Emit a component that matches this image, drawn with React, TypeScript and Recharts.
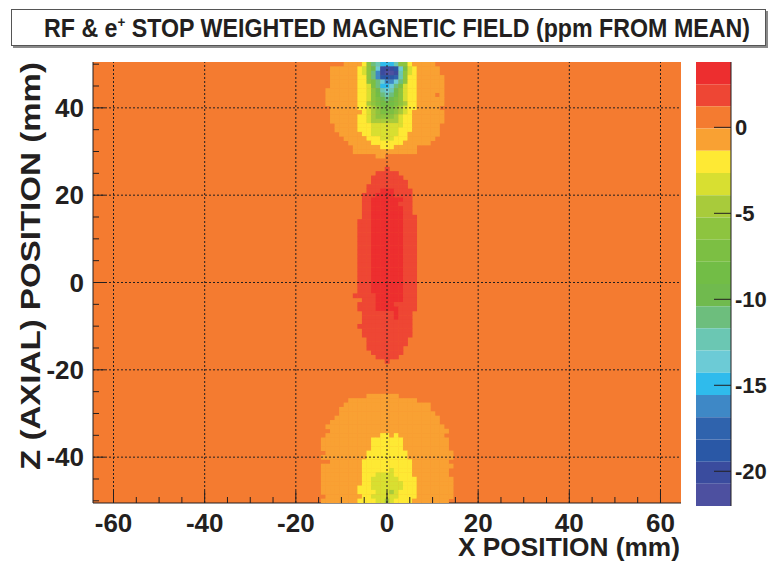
import { ScatterChart, Scatter, XAxis, YAxis, ReferenceArea, ReferenceLine, ComposedChart } from "recharts";

const FONT = "'Liberation Sans', Arial, Helvetica, sans-serif";
const INK = "#231f20";

// 1 mm bins. Only the window x = -16..16 is listed, one string per z row (50 down to -50).
// Everything outside the window (and every "." cell) is in the background band.
const WINDOW_X0 = -16;
const WINDOW_Z0 = 50;
const FIELD_ROWS = [
  ".......ooooYgstCCCtggYooooo......", // 50
  "....ooooooYygHciiidcGyYooooo.....",
  "....ooooooYygsbippitgyYooooo.....",
  "....ooooooYYgsbdddBtgYYoooooo....",
  "....ooooooYYgGscbbcsgYYoooooo....",
  "....ooooooYYyGsCCcsGyYYoooooo....", // 45
  "...oooooooYYygHtctHgyYYoooooo....",
  "...oooooooYYyghstshgyYYoooo.o....",
  "...oooooooYYygGHsHGgyYYoooooo....",
  "...oooooooYYlgGhhhGglYYoooooo....",
  "....ooooooYYylgGGGglyYYooooo.....", // 40
  "....oooooooYylgGGGglyYooooooo....",
  "....ooooooYYylgggglyYYooooooo....",
  "....ooooooYYyllllllyYYooooooo....",
  ".....oooooYYYyyyyyyyYYoooooo.....",
  ".....oooooYYYyyyyyyYYYoooooo.....", // 35
  "......oooooYYyyyyyyYYooooooo.....",
  ".......oooooYYYyyyYYYoooooo......",
  "........oooooYYYYYYYoooooo.......",
  ".........ooooooYYYooooo..........",
  ".........oooooooooooooo..........", // 30
  "..............oo.................",
  ".................................",
  ".................................",
  "................r................", // 26
  "..............rrrrr..............",
  ".............rrrrrrr.............",
  ".............rrrrrrrr............",
  "............rrrrrrrrr............",
  "............rrrRRRrrrr...........",
  "...........rrrRRRRrrrr...........", // 20
  "...........rrRRRRRRRrr...........",
  "...........rrRRRRRRrrr...........",
  "...........rrRRRRRRRrr...........",
  "...........rrRRRRRRRrr...........",
  "...........rrRRRRRRRrrr..........", // 15
  "..........rrrRRRRRRRrrr..........",
  "..........rrrRRRRRRRrrr..........",
  "..........rrrRRRRRRRrrr..........",
  "..........rrrRRRRRRRrrr..........",
  "..........rrrRRRRRRRrrr..........", // 10
  "..........rrrRRRRRRRrrr..........",
  "..........rrrRRRRRRRrrr..........",
  "..........rrrRRRRRRRrrr..........",
  "..........rrrRRRRRRRrrr..........",
  "..........rrrRRRRRRRrrr..........", // 5
  "..........rrrRRRRRRRrrr..........",
  "..........rrrRRRRRRRrrr..........",
  "..........rrrRRRRRRRrrr..........",
  "..........rrrRRRRRRRrrr..........",
  "..........rrrRRRRRRRrrr..........", // 0
  "..........rrrRRRRRRRrrr..........",
  "..........rrrRRRRRRRrrr..........",
  ".........rrrrrRRRRRRrrr..........",
  "...........rrrRRRRRRrrr..........",
  "..........rrrrRRRRrrrrr..........", // -5
  "..........rrrrRRRRRrrrr..........",
  "...........rrrrrrrRrrr...........",
  "...........rrrrrrrRrrr...........",
  "...........rrrrrrrrrrr...........",
  "..........rrrrrrrrrrrr...........", // -10
  "...........rrrrrrrrrrr...........",
  "...........rrrrrrrrrrr...........",
  "............rrrrrrrrr............",
  "............rrrrrrrrr............",
  "............rrrrrrrr.............", // -15
  ".............rrrrrrr.............",
  "..............rrrrr..............",
  "................r................",
  ".................................",
  ".................................", // -20
  ".................................",
  ".................................",
  ".................................",
  ".................................",
  ".................................", // -25
  "............ooooooo..............",
  "........ooooooooooooooo..........",
  ".......ooooooooooooooooooo.......",
  "......oooooooooooooooooooo.......",
  "......ooooooooooooooooooooo......", // -30
  ".....ooooooooooooooooooooooo.....",
  "....oooooooooooooooooooooooo.....",
  "...oooooooooooooooooooooooooo....",
  "....oooooooooooooooooooooooooo...",
  "...ooooooooooooYYoYoooooooooo....", // -35
  "..oooooooooooYYYYYYYoooooooooo...",
  "..oooooooooooYYYYYYYoooooooooo...",
  "..oooooooooooYYYYYYYoooooooooo...",
  "...oooooooooYYYYYYYYYoooooooooo..",
  "..ooooooooooYYYYYYYYYoooooooooo..", // -40
  "....oooooooYYYYYYYYYYYoooooooo...",
  "..oooooooooYYYYYYYYYYYooooooooo..",
  "..oooooooooYYYYYYyYYYYoooooooo...",
  "..oooooooooYYYyyyyYYYYoooooooo...",
  "..oooooooooYYyyyyyyYYYYoooooooo..", // -45
  "..oooooooooYYyyyyyyyYYYoooooooo..",
  "..ooooooooYYYyyyyyyyYYYoooooooo..",
  "..ooooooooYYYYyyylyYYYYoooooooo..",
  "...ooooooooYYyyyyyyYYYYoooooooo..",
  "..ooooooooYYYYyylyYYYYoooooooo...", // -50
];

// colour bands of the scale, top (most positive) to bottom, ppm
const BAND_KEYS = "Rr.oYylgGhHstcCbBdip";
const BAND_EDGES = [
  3.8, 2.51, 1.22, -0.07, -1.36, -2.66, -3.95, -5.24, -6.53, -7.82, -9.11,
  -10.4, -11.69, -12.98, -14.27, -15.57, -16.86, -18.15, -19.44, -20.73, -22.02,
];
const BAND_COLORS = [
  "#ED2E2F", "#EE4634", "#F47B30", "#F9A133", "#FEE934", "#D8DF31", "#A8CB3B",
  "#8DC43F", "#7CBF43", "#72BD46", "#70BA4E", "#6DBE7D", "#6BC7B3", "#6CCBD6",
  "#2FBBEC", "#3E88C6", "#2F63AD", "#2A58A6", "#3A4C9E", "#4D50A0",
];
const BACKGROUND_BAND = 2;

const X_RANGE: [number, number] = [-64.5, 64.5];
const Z_RANGE: [number, number] = [-50.5, 50.5];
const X_TICKS = [-60, -55, -50, -45, -40, -35, -30, -25, -20, -15, -10, -5, 0, 5, 10, 15, 20, 25, 30, 35, 40, 45, 50, 55, 60];
const Z_TICKS = [-50, -45, -40, -35, -30, -25, -20, -15, -10, -5, 0, 5, 10, 15, 20, 25, 30, 35, 40, 45, 50];
const X_LABELS = [-60, -40, -20, 0, 20, 40, 60];
const Z_LABELS = [-40, -20, 0, 20, 40];
const SCALE_LABELS = [0, -5, -10, -15, -20];

const cells = FIELD_ROWS.flatMap((row, r) =>
  row.split("").flatMap((ch, c) =>
    ch === "." ? [] : [{ x: WINDOW_X0 + c, z: WINDOW_Z0 - r, band: BAND_KEYS.indexOf(ch) }]
  )
);

const PLOT = { left: 93, top: 62, width: 588, height: 441 };
const CELL_W = PLOT.width / (X_RANGE[1] - X_RANGE[0]);
const CELL_H = PLOT.height / (Z_RANGE[1] - Z_RANGE[0]);

const FieldCell = (p: any) => (
  <rect
    x={p.cx - CELL_W / 2}
    y={p.cy - CELL_H / 2}
    width={CELL_W + 0.4}
    height={CELL_H + 0.4}
    fill={BAND_COLORS[p.payload.band]}
  />
);

const labelStyle = { fontSize: 26, fontWeight: "bold" as const, fontFamily: FONT, fill: INK };

const XTick = ({ x, y, payload }: any) => {
  const major = X_LABELS.includes(payload.value);
  return (
    <g>
      <line x1={x} x2={x} y1={y} y2={y - (major ? 12 : 6)} stroke={INK} />
      {major && (
        <text x={x} y={y + 29} textAnchor="middle" {...labelStyle}>{payload.value}</text>
      )}
    </g>
  );
};

const ZTick = ({ x, y, payload }: any) => {
  const major = Z_LABELS.includes(payload.value);
  return (
    <g>
      <line x1={x} x2={x + (major ? 12 : 6)} y1={y} y2={y} stroke={INK} />
      {major && (
        <text x={x - 9} y={y + 9} textAnchor="end" {...labelStyle}>{payload.value}</text>
      )}
    </g>
  );
};

const ScaleTick = ({ x, y, payload }: any) => (
  <g>
    <line x1={x - 17} x2={x} y1={y} y2={y} stroke={INK} />
    <text x={x + 4} y={y + 8} textAnchor="start" {...labelStyle} fontSize={22}>{payload.value}</text>
  </g>
);

export default function App() {
  return (
    <div style={{ position: "absolute", left: 0, top: 0, width: 774, height: 564, background: "#fff", overflow: "hidden" }}>
      <svg width={774} height={564} style={{ position: "absolute", left: 0, top: 0 }}>
        <rect x={13} y={11} width={755} height={37} fill="#8a8a8a" />
        <rect x={11.5} y={9.5} width={754} height={36} fill="#fff" stroke="#555" />
        <text x={397} y={37} textAnchor="middle" fontSize={26} fontWeight="bold" fontFamily={FONT} fill={INK}
          textLength={706} lengthAdjust="spacingAndGlyphs">
          RF &amp; e<tspan dy={-10} fontSize={15}>+</tspan><tspan dy={10}> STOP WEIGHTED MAGNETIC FIELD (ppm FROM MEAN)</tspan>
        </text>
        <text x={680} y={556} textAnchor="end" fontSize={26} fontWeight="bold" fontFamily={FONT} fill={INK}
          textLength={222} lengthAdjust="spacingAndGlyphs">X POSITION (mm)</text>
        <text transform="translate(40 266) rotate(-90)" textAnchor="middle" fontSize={27} fontWeight="bold"
          fontFamily={FONT} fill={INK} textLength={408} lengthAdjust="spacingAndGlyphs">Z (AXIAL) POSITION (mm)</text>
      </svg>

      <div style={{ position: "absolute", left: 0, top: 0 }}>
        <ScatterChart width={774} height={564} margin={{ top: PLOT.top, right: 774 - PLOT.left - PLOT.width, bottom: 31, left: 0 }}>
          <XAxis type="number" dataKey="x" domain={X_RANGE} allowDataOverflow ticks={X_TICKS} interval={0}
            tick={XTick} tickLine={false} tickSize={0} tickMargin={0} height={30} stroke={INK} />
          <YAxis type="number" dataKey="z" domain={Z_RANGE} allowDataOverflow ticks={Z_TICKS} interval={0}
            tick={ZTick} tickLine={false} tickSize={0} tickMargin={0} width={PLOT.left} stroke={INK} />
          <ReferenceArea x1={X_RANGE[0]} x2={X_RANGE[1]} y1={Z_RANGE[0]} y2={Z_RANGE[1]}
            fill={BAND_COLORS[BACKGROUND_BAND]} fillOpacity={1} stroke="none" />
          <Scatter data={cells} shape={FieldCell} isAnimationActive={false} />
          {X_LABELS.map((v) => (
            <ReferenceLine key={"x" + v} x={v} stroke={INK} strokeDasharray="2 2" zIndex={700} />
          ))}
          {Z_LABELS.map((v) => (
            <ReferenceLine key={"z" + v} y={v} stroke={INK} strokeDasharray="2 2" zIndex={700} />
          ))}
        </ScatterChart>
      </div>

      <div style={{ position: "absolute", left: 696, top: 62 }}>
        <ComposedChart width={85} height={444} margin={{ top: 0, right: 0, bottom: 0, left: 0 }} data={[{ x: 0 }, { x: 1 }]}>
          <XAxis dataKey="x" type="number" domain={[0, 1]} hide />
          <YAxis orientation="right" type="number" domain={[BAND_EDGES[BAND_EDGES.length - 1], BAND_EDGES[0]]}
            allowDataOverflow ticks={SCALE_LABELS} interval={0} tick={ScaleTick} tickLine={false}
            tickSize={0} tickMargin={0} width={50} stroke={INK} />
          {BAND_COLORS.map((c, i) => (
            <ReferenceArea key={i} y1={BAND_EDGES[i + 1]} y2={BAND_EDGES[i]} fill={c} fillOpacity={1} stroke="none" />
          ))}
        </ComposedChart>
      </div>
    </div>
  );
}
